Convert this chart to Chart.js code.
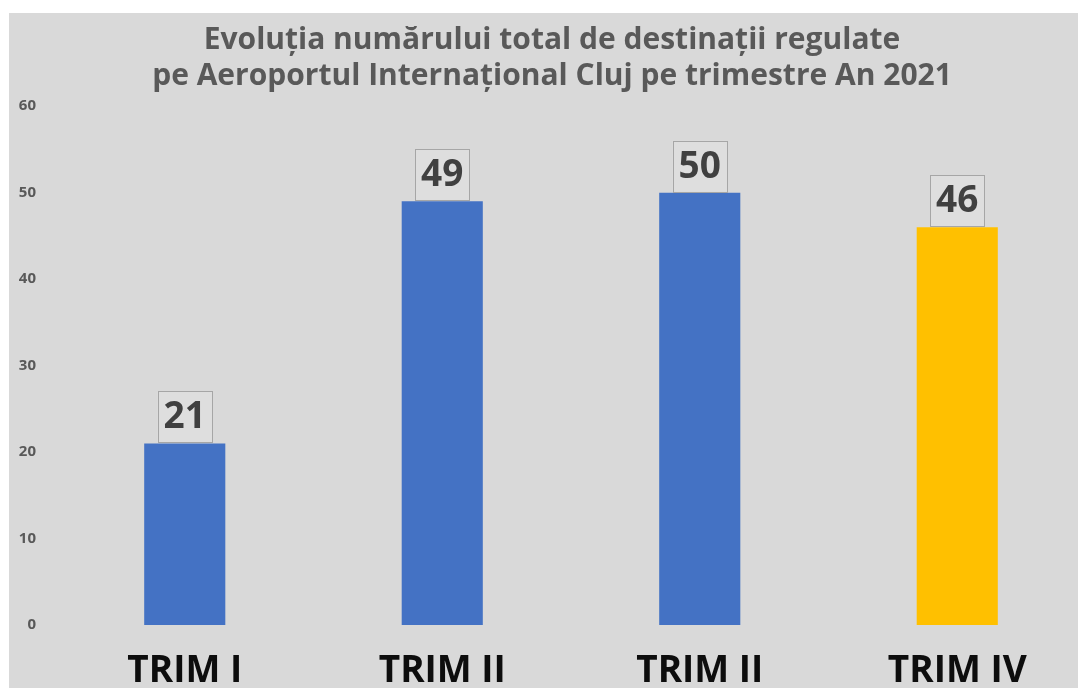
<!DOCTYPE html>
<html>
<head>
<meta charset="utf-8">
<script src="https://cdn.jsdelivr.net/npm/chart.js@4.4.1/dist/chart.umd.min.js"></script>
<style>
    html, body { margin: 0; padding: 0; background: #ffffff; overflow: hidden; }
    #wrap { position: absolute; left: 9px; top: 13px; width: 1080px; height: 676px; background: #d9d9d9; }
    #destGraph { position: absolute; left: 9px; top: 0; }
</style>
</head>
<body>
<div id="wrap"><canvas id="destGraph" width="1071" height="676"></canvas></div>
<script>
var quarterLabels = ["TRIM I", "TRIM II", "TRIM II", "TRIM IV"];
var destinationCounts = [21, 49, 50, 46];
var barColors = ["#4472c4", "#4472c4", "#4472c4", "#ffc000"];
var yTicks = [0, 10, 20, 30, 40, 50, 60];
var titleLines = ["Evoluția numărului total de destinații regulate", "pe Aeroportul Internațional Cluj pe trimestre An 2021"];

// boxed value labels above each bar
var boxedLabels = {
    id: "boxedLabels",
    afterDatasetsDraw(chart) {
        var ctx = chart.ctx;
        var meta = chart.getDatasetMeta(0);
        ctx.save();
        ctx.font = "bold 37px 'Open Sans'";
        ctx.textAlign = "center";
        ctx.textBaseline = "middle";
        meta.data.forEach((bar, i) => {
            var txt = String(chart.data.datasets[0].data[i]);
            var w = ctx.measureText(txt).width + 12;
            var h = 51;
            var x = bar.x - w / 2;
            var y = bar.y - h - 1;
            ctx.fillStyle = "#dedede";
            ctx.fillRect(x, y, w, h);
            ctx.strokeStyle = "#a6a6a6";
            ctx.lineWidth = 1;
            ctx.strokeRect(Math.round(x) + 0.5, Math.round(y) + 0.5, Math.round(w), h);
            ctx.fillStyle = "#404040";
            ctx.fillText(txt, bar.x, y + h / 2 + 1);
        });
        ctx.restore();
    }
};

var graph = new Chart("destGraph", {
    type: "bar",
    data: {
        labels: quarterLabels,
        datasets: [{
            data: destinationCounts,
            backgroundColor: barColors,
            barPercentage: 0.315,
            categoryPercentage: 1,
        }],
    },
    options: {
        responsive: false,
        animation: false,
        layout: { padding: { left: 0, right: 3, top: 0, bottom: 0 } },
        plugins: {
            legend: { display: false },
            tooltip: { enabled: false },
            title: {
                display: true,
                text: titleLines,
                color: "#595959",
                font: { family: "'Open Sans'", size: 30, weight: "bold", lineHeight: 1.22 },
                padding: { top: 9, bottom: 11 },
            },
        },
        scales: {
            x: {
                afterFit: (scale) => { scale.height = 64; },
                grid: { display: false, drawTicks: false },
                border: { display: false },
                ticks: {
                    color: "#0d0d0d",
                    font: { family: "'Open Sans'", size: 37, weight: "bold" },
                    padding: 24,
                    maxRotation: 0,
                },
            },
            y: {
                min: 0,
                max: 60,
                afterBuildTicks: (scale) => { scale.ticks = yTicks.map((v) => ({ value: v })); },
                afterFit: (scale) => { scale.width = 38; },
                grid: { display: false, drawTicks: false },
                border: { display: false },
                ticks: {
                    color: "#595959",
                    font: { family: "'Open Sans'", size: 15, weight: "bold" },
                    padding: 20,
                },
            },
        },
    },
    plugins: [boxedLabels],
});
</script>
</body>
</html>
